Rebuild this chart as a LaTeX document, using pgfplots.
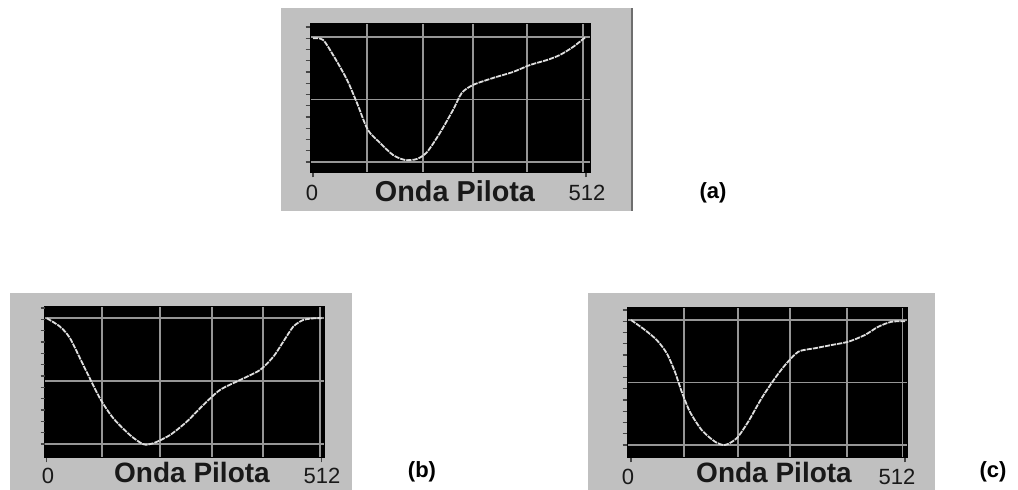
\documentclass[border=0pt]{standalone}
\usepackage{pgfplots}
\pgfplotsset{compat=1.18}
\usepackage{fontspec}
\setmainfont{Liberation Sans}

\definecolor{panelgray}{RGB}{192,192,192}
\definecolor{paneledge}{RGB}{110,110,110}
\definecolor{gridgray}{RGB}{150,150,150}
\definecolor{tracegray}{RGB}{222,222,222}
\definecolor{tickgray}{RGB}{70,70,70}
\definecolor{inkgray}{RGB}{25,25,25}

% oscilloscope-style panel: black screen, grey grid, no tick labels
\pgfplotsset{
  scope/.style={
    scale only axis,
    width=140pt,
    axis background/.style={fill=black},
    axis line style={draw=black, line width=0.5pt},
    grid=major,
    major grid style={draw=gridgray, line width=0.8pt},
    major tick length=0pt,
    xtick pos=bottom, ytick pos=left,
    xticklabel=\empty, yticklabel=\empty,
    ytick={0,0.5,1},
    extra x ticks={0,512},
    extra y ticks={0,0.09,0.18,0.27,0.36,0.45,0.54,0.63,0.72,0.81,0.9,0.99,1.08},
    extra tick style={grid=none, tick align=outside, major tick length=2.2pt,
      xtick pos=bottom, ytick pos=left,
      tick style={draw=tickgray, line width=0.7pt}},
    clip=true,
  },
  trace/.style={tracegray, line width=0.9pt, smooth, tension=0.45,
    dash pattern=on 2.6pt off 0.5pt, mark=none},
}

\begin{document}
\begin{tikzpicture}[x=0.5pt,y=0.5pt]
  \fill[white] (0,0) rectangle (1018,490);
  \path[use as bounding box] (0,0) rectangle (1018,490);

  % grey panels
  \fill[panelgray] (281,279) rectangle (632,482);
  \draw[paneledge, line width=0.6pt] (632,279) -- (632,482);
  \fill[panelgray] (10,0) rectangle (352,197);
  \fill[panelgray] (588,0) rectangle (935,197);

  % (a) pilot wave, top
  \begin{axis}[scope, at={(155pt,158.5pt)}, anchor=south west,
      height=74.5pt, xmin=-5.6, xmax=519.5, ymin=-0.088, ymax=1.104,
      xtick={101,206,300,401,506}]
    \addplot[trace] coordinates {
      (0,0.99) (19,0.976) (41,0.832) (64,0.656) (82.5,0.472) (103,0.256)
      (126,0.152) (150,0.056) (172.5,0.016) (195,0.024) (214,0.08)
      (238,0.232) (262.6,0.416) (279,0.552) (300,0.616) (337.6,0.672)
      (375,0.72) (407,0.776) (439,0.816) (463,0.856) (487.6,0.92) (510,0.995)
    };
  \end{axis}

  % (b) pilot wave, bottom left
  \begin{axis}[scope, at={(22.5pt,16pt)}, anchor=south west,
      height=75.5pt, xmin=-3.2, xmax=518.1, ymin=-0.111, ymax=1.087,
      xtick={103,211,308,403,509}]
    \addplot[trace] coordinates {
      (0,0.998) (24.8,0.931) (43.4,0.839) (68,0.627) (99,0.363) (124,0.204)
      (155,0.071) (180,-0.002) (198.5,0.006) (229.5,0.071) (260.7,0.177)
      (291.6,0.31) (322.7,0.429) (360,0.508) (397,0.587) (422,0.693)
      (440.5,0.812) (459,0.931) (477.7,0.984) (499.5,0.998) (512,0.998)
    };
  \end{axis}

  % (c) pilot wave, bottom right
  \begin{axis}[scope, at={(313.5pt,16pt)}, anchor=south west,
      height=75pt, xmin=-7.5, xmax=515.7, ymin=-0.104, ymax=1.096,
      xtick={99,200,297,404,507}]
    \addplot[trace] coordinates {
      (0,1.0) (26,0.92) (48,0.84) (66.7,0.734) (82,0.586) (94.7,0.426)
      (110,0.266) (132,0.12) (157,0.026) (175.6,0.0) (197.5,0.054)
      (219,0.186) (244,0.374) (269,0.534) (288,0.64) (312.6,0.746)
      (343.8,0.774) (375,0.8) (406,0.826) (437,0.88) (462,0.946)
      (487,0.986) (512,0.99)
    };
  \end{axis}

  % axis captions
  \begin{scope}[inkgray]
    \node[font=\fontsize{11}{11}\selectfont] at (312,297) {0};
    \node[font=\fontsize{14.4}{14.4}\selectfont\bfseries] at (455,299) {Onda Pilota};
    \node[font=\fontsize{11}{11}\selectfont] at (587,297) {512};

    \node[font=\fontsize{11}{11}\selectfont] at (48,14) {0};
    \node[font=\fontsize{14}{14}\selectfont\bfseries] at (192,17) {Onda Pilota};
    \node[font=\fontsize{11}{11}\selectfont] at (322,14) {512};

    \node[font=\fontsize{11}{11}\selectfont] at (628,13) {0};
    \node[font=\fontsize{14}{14}\selectfont\bfseries] at (774,17) {Onda Pilota};
    \node[font=\fontsize{11}{11}\selectfont] at (897,13) {512};
  \end{scope}

  % panel labels
  \node[font=\fontsize{11}{11}\selectfont\bfseries] at (713,297) {(a)};
  \node[font=\fontsize{11}{11}\selectfont\bfseries] at (422,18) {(b)};
  \node[font=\fontsize{11}{11}\selectfont\bfseries] at (993,18) {(c)};
\end{tikzpicture}
\end{document}
